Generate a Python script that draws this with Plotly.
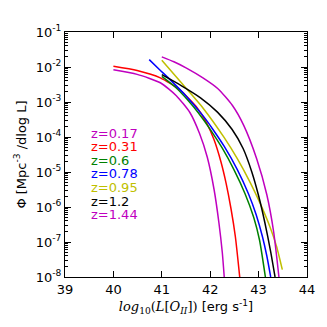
import plotly.graph_objects as go

# curves: log10(L) and log10(Phi)
x_z017 = [40.00, 40.49, 40.97, 41.30, 41.58, 41.78, 41.94, 42.08, 42.18, 42.25, 42.29]
y_z017 = [-2.08, -2.21, -2.45, -2.82, -3.30, -3.90, -4.58, -5.50, -6.45, -7.30, -8.0]

x_z031 = [40.00, 40.49, 40.97, 41.37, 41.71, 41.92, 42.08, 42.22, 42.33, 42.43, 42.52, 42.61]
y_z031 = [-1.98, -2.10, -2.31, -2.65, -3.13, -3.58, -4.08, -4.70, -5.33, -6.05, -6.85, -8.0]

x_z06 = [41.00, 41.30, 41.54, 41.75, 42.00, 42.25, 42.49, 42.72, 42.90, 43.02, 43.14]
y_z06 = [-2.27, -2.60, -2.95, -3.30, -3.78, -4.32, -4.93, -5.62, -6.30, -6.95, -8.0]

x_z078 = [40.74, 40.95, 41.17, 41.51, 41.85, 42.05, 42.29, 42.56, 42.79, 42.95, 43.08, 43.17, 43.25]
y_z078 = [-1.79, -2.07, -2.36, -2.84, -3.39, -3.77, -4.27, -4.93, -5.62, -6.22, -6.85, -7.40, -8.0]

x_z095 = [41.00, 41.44, 41.85, 42.29, 42.56, 42.83, 43.03, 43.23, 43.37, 43.49]
y_z095 = [-1.81, -2.51, -3.17, -4.02, -4.62, -5.31, -5.89, -6.55, -7.12, -7.79]

x_z12 = [41.00, 41.40, 41.80, 42.15, 42.45, 42.68, 42.86, 43.00, 43.13, 43.25, 43.34]
y_z12 = [-2.22, -2.53, -2.88, -3.29, -3.78, -4.33, -5.00, -5.68, -6.45, -7.28, -8.0]

x_z144 = [41.00, 41.25, 41.51, 41.85, 42.16, 42.46, 42.69, 42.96, 43.17, 43.31, 43.42]
y_z144 = [-1.71, -1.85, -2.03, -2.31, -2.62, -3.10, -3.66, -4.62, -5.65, -6.70, -8.0]

labels = ["z=0.17", "z=0.31", "z=0.6", "z=0.78", "z=0.95", "z=1.2", "z=1.44"]
colors = ["#bf00bf", "#ff0000", "#008000", "#0000ff", "#bfbf00", "#000000", "#bf00bf"]
series = [(x_z017, y_z017), (x_z031, y_z031), (x_z06, y_z06), (x_z078, y_z078),
          (x_z095, y_z095), (x_z12, y_z12), (x_z144, y_z144)]

fig = go.Figure()
for (xs, ys), c in zip(series, colors):
    fig.add_trace(go.Scatter(
        x=xs, y=[10 ** v for v in ys], mode="lines",
        line=dict(color=c, width=1.5, shape="spline", smoothing=0.6),
        showlegend=False,
    ))

# z labels stacked at the left
for i, (lab, c) in enumerate(zip(labels, colors)):
    fig.add_annotation(
        x=39.49, y=1 - (133.3 + 13.6 * i - 32.3) / 245, xref="x", yref="paper",
        text=lab, showarrow=False, xanchor="left", yanchor="middle",
        font=dict(color=c, size=13, family="DejaVu Sans"),
    )

tick_exp = [-8, -7, -6, -5, -4, -3, -2, -1]
fig.update_yaxes(
    type="log", range=[-8, -1],
    tickvals=[10 ** e for e in tick_exp],
    ticktext=[f"10<sup>{e}</sup>" for e in tick_exp],
    ticks="inside", ticklen=6, tickcolor="black", mirror="allticks",
    showline=True, linecolor="black", linewidth=1, showgrid=False, zeroline=False,
    minor=dict(ticks="inside", ticklen=3, tickcolor="black", dtick="D1", showgrid=False),
    title=dict(text="\u03a6 [Mpc<sup>-3</sup> /dlog L]", font=dict(size=13), standoff=6),
)
fig.update_xaxes(
    range=[39, 44], tickvals=[39, 40, 41, 42, 43, 44],
    ticks="inside", ticklen=6, tickcolor="black", mirror="allticks",
    showline=True, linecolor="black", linewidth=1, showgrid=False, zeroline=False,
    title=dict(
        text="<span style='font-family:DejaVu Serif'><i>log</i><sub>10</sub>(<i>L</i>[<i>O</i><sub><i>II</i></sub>])</span> [erg s<sup>-1</sup>]",
        font=dict(size=13), standoff=6),
)

fig.update_layout(
    width=327, height=327,
    margin=dict(l=65, r=16, t=32, b=50),
    plot_bgcolor="white", paper_bgcolor="white",
    font=dict(family="DejaVu Sans", size=13, color="black"),
)

fig.write_html("out.html", config={"displayModeBar": False},
               post_script="document.body.style.margin='0';")
